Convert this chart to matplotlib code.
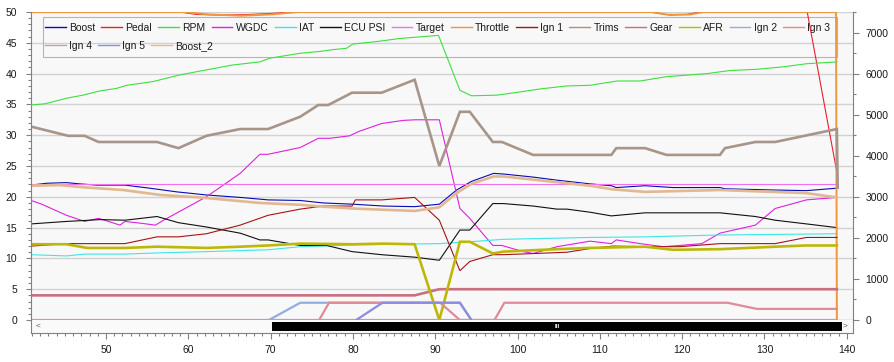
import matplotlib
matplotlib.use('Agg')
import matplotlib.pyplot as plt
from matplotlib.lines import Line2D
from matplotlib.patches import Rectangle
from matplotlib.ticker import MultipleLocator

plt.rcParams['font.family'] = ['Liberation Sans', 'DejaVu Sans']
plt.rcParams['font.size'] = 7.5

# ---- data (time on x) ----
boost_x = [40.9, 42.8, 45.2, 46.8, 48.9, 52.3, 55.3, 58.6, 62.2, 66.3, 69.7, 73.6, 76.4, 80.0, 83.7,
           87.5, 90.5, 92.6, 94.4, 97.1, 98.3, 101.9, 104.8, 108.8, 111.4, 112.0, 115.5, 118.9,
           124.6, 125.2, 131.3, 135.1, 138.8]
boost = [21.9, 22.2, 22.3, 22.1, 21.9, 21.9, 21.4, 20.8, 20.3, 19.9, 19.5, 19.4, 19.0, 18.8, 18.5,
         18.4, 18.8, 21.1, 22.5, 23.8, 23.7, 23.2, 22.7, 22.1, 21.8, 21.5, 21.8, 21.5,
         21.5, 21.3, 21.1, 21.0, 21.4]

pedal_x = [40.9, 58.5, 61.0, 64.0, 67.5, 70.5, 73.4, 115.8, 118.0, 120.5, 122.6, 132.5, 138.8]
pedal = [52.0, 50.1, 49.6, 49.5, 49.6, 49.8, 50.1, 50.1, 49.6, 49.6, 50.1, 69.5, 24.0]

rpm_x = [40.9, 42.6, 45.2, 47.2, 49.3, 51.3, 52.5, 55.7, 59.0, 62.2, 65.4, 68.7, 69.9, 73.6, 76.0,
         77.6, 79.2, 80.0, 82.9, 85.7, 88.5, 90.4, 93.0, 94.4, 97.5, 100.7, 102.7, 106.0, 108.8,
         112.1, 114.9, 118.1, 123.0, 125.8, 129.1, 132.3, 135.1, 138.8]
rpm = [5235, 5265, 5400, 5475, 5580, 5640, 5715, 5805, 5970, 6090, 6210, 6285, 6375, 6495, 6540,
       6585, 6615, 6720, 6780, 6855, 6900, 6930, 5595, 5460, 5475, 5565, 5625, 5700, 5715,
       5820, 5820, 5925, 6000, 6075, 6105, 6165, 6240, 6285]

wgdc_x = [40.9, 42.2, 45.2, 47.4, 49.1, 50.3, 51.7, 52.3, 54.3, 56.0, 57.0, 62.2, 66.3, 68.7, 69.7,
          73.6, 75.8, 77.2, 79.6, 80.7, 83.5, 86.1, 87.5, 90.5, 93.0, 94.2, 97.0, 98.1, 100.7,
          101.9, 104.8, 108.8, 111.4, 112.0, 114.9, 117.7, 119.7, 122.4, 124.6, 128.9, 131.3,
          135.1, 138.8]
wgdc = [19.4, 18.8, 17.0, 16.0, 16.5, 16.0, 15.4, 16.0, 15.7, 15.4, 16.2, 20.0, 23.8, 26.9, 26.9,
        28.0, 29.5, 29.5, 29.9, 30.6, 31.9, 32.4, 32.5, 32.5, 18.1, 16.5, 12.1, 12.1, 11.1,
        10.8, 11.9, 12.8, 12.4, 13.0, 12.4, 11.9, 12.1, 12.4, 14.1, 15.4, 18.1,
        19.5, 19.9]

iat_x = [40.9, 45.2, 47.4, 52.1, 56.6, 62.2, 69.7, 73.6, 76.4, 80.4, 90.5, 94.2, 98.3, 108.8,
         115.5, 124.6, 138.8]
iat = [10.6, 10.4, 10.7, 10.7, 10.9, 11.1, 11.4, 11.9, 12.0, 12.2, 12.4, 12.7, 13.1, 13.4,
       13.5, 13.8, 14.0]

ecu_x = [40.9, 45.2, 49.3, 52.3, 56.2, 58.8, 62.2, 66.3, 68.7, 69.7, 73.6, 76.8, 79.9, 83.5, 87.5,
         90.5, 93.0, 94.2, 97.0, 98.3, 101.9, 104.8, 106.0, 108.8, 111.4, 115.5, 124.6, 128.9,
         131.3, 135.1, 138.8]
ecu_psi = [15.6, 16.0, 16.3, 16.2, 16.8, 15.8, 15.1, 14.1, 13.0, 13.0, 12.1, 12.1, 11.1, 10.6, 10.2,
           9.7, 14.6, 14.6, 18.9, 18.9, 18.5, 18.0, 18.0, 17.5, 16.9, 17.4, 17.4, 16.8,
           16.2, 15.6, 15.0]

target_x = [40.9, 138.8]
target = [22.0, 22.0]

throttle_x = [40.9, 59.5, 62.5, 66.5, 70.0, 73.4, 116.2, 118.5, 121.0, 122.6, 138.7, 138.8]
throttle = [50.0, 50.0, 49.6, 49.4, 49.6, 50.0, 50.0, 49.5, 49.6, 50.0, 50.0, 0.0]

ign1_x = [40.9, 45.2, 52.3, 56.2, 58.8, 62.2, 66.3, 69.7, 73.6, 76.4, 79.9, 80.3, 83.5, 87.5,
          90.5, 93.0, 94.2, 97.0, 98.3, 106.0, 108.8, 111.6, 115.5, 119.7, 124.6, 131.3,
          135.1, 138.8]
ign1 = [12.0, 12.4, 12.4, 13.5, 13.5, 14.0, 15.4, 17.0, 18.0, 18.5, 18.5, 19.5, 19.5, 19.9,
        16.2, 8.0, 9.5, 10.6, 10.6, 11.0, 11.6, 12.0, 11.9, 11.9, 12.4, 12.4,
        13.4, 13.4]

trims_x = [40.9, 45.4, 47.4, 49.1, 56.2, 58.8, 62.2, 66.3, 69.7, 73.6, 75.8, 77.0, 79.9, 83.5,
           87.5, 90.5, 93.0, 94.2, 97.0, 98.1, 101.9, 111.4, 112.0, 115.5, 118.1, 124.6, 125.2,
           128.9, 131.3, 138.8, 138.9]
trims = [31.4, 29.9, 29.9, 28.9, 28.9, 27.9, 29.9, 31.0, 31.0, 33.0, 34.9, 34.9, 36.9, 36.9,
         39.0, 25.0, 33.8, 33.8, 28.9, 28.9, 26.8, 26.8, 27.9, 27.9, 26.8, 26.8, 27.9,
         28.9, 28.9, 31.0, 21.5]

gear_x = [40.9, 87.5, 90.5, 138.8]
gear = [4, 4, 5, 5]

afr_x = [40.9, 45.2, 47.7, 52.3, 56.2, 62.2, 66.3, 69.7, 73.6, 80.0, 83.7, 87.5, 90.5, 93.0, 94.2,
         97.0, 98.3, 104.8, 108.8, 115.5, 118.9, 124.6, 131.3, 135.1, 138.8]
afr = [12.3, 12.3, 11.7, 11.7, 11.9, 11.7, 11.9, 12.1, 12.4, 12.3, 12.4, 12.3, 0.0, 12.7, 12.7,
       10.8, 11.1, 11.5, 11.7, 11.9, 11.4, 11.5, 11.9, 12.1, 12.1]

ign2_x = [69.8, 73.6, 93.0, 94.4]
ign2 = [0.0, 2.8, 2.8, 0.0]

ign3_x = [75.9, 77.1, 90.6, 93.0, 97.2, 98.4, 125.5, 129.1, 138.8]
ign3 = [0.0, 2.8, 2.8, 0.0, 0.0, 2.8, 2.8, 1.8, 1.8]

ign4_x = [40.9, 138.8]
ign4 = [0.0, 0.0]

ign5_x = [80.4, 83.6, 93.0, 94.4]
ign5 = [0.0, 2.8, 2.8, 0.0]

boost2_x = [40.9, 44.4, 47.7, 52.1, 56.6, 61.4, 68.7, 73.6, 76.4, 80.0, 83.7, 87.5, 90.5, 92.6,
            94.4, 97.1, 98.3, 108.8, 111.6, 115.5, 124.6, 135.1, 138.8]
boost2 = [21.8, 21.9, 21.5, 21.1, 20.3, 19.9, 19.0, 18.7, 18.4, 18.1, 17.9, 17.7, 18.3, 20.6,
          22.1, 23.3, 23.3, 21.8, 21.2, 20.8, 21.1, 20.6, 19.9]

# label, x, y, colour, linewidth, on right axis
series = [
    ('Boost', boost_x, boost, '#0a0ab4', 0.8, False),
    ('Pedal', pedal_x, pedal, '#e8202c', 0.8, False),
    ('RPM', rpm_x, rpm, '#3ee03e', 0.8, True),
    ('WGDC', wgdc_x, wgdc, '#e020e0', 0.8, False),
    ('IAT', iat_x, iat, '#3ee6e6', 0.8, False),
    ('ECU PSI', ecu_x, ecu_psi, '#111111', 0.8, False),
    ('Target', target_x, target, '#f070f0', 0.8, False),
    ('Throttle', throttle_x, throttle, '#f0963c', 1.4, False),
    ('Ign 1', ign1_x, ign1, '#a51414', 0.8, False),
    ('Trims', trims_x, trims, '#a8958a', 1.9, False),
    ('Gear', gear_x, gear, '#c8707e', 1.9, False),
    ('AFR', afr_x, afr, '#bdb808', 1.9, False),
    ('Ign 2', ign2_x, ign2, '#92aede', 1.6, False),
    ('Ign 3', ign3_x, ign3, '#e08a9a', 1.6, False),
    ('Ign 4', ign4_x, ign4, '#b9a3b4', 1.6, False),
    ('Ign 5', ign5_x, ign5, '#8c8ce0', 1.6, False),
    ('Boost_2', boost2_x, boost2, '#e2b890', 1.9, False),
]

W, H = 894, 362
fig = plt.figure(figsize=(W / 100, H / 100), dpi=100)
x_lo, x_hi = 40.89, 140.70

# main plot area (px 31..852, 12..320) and scrollbar strip below (320..333)
ax = fig.add_axes([31 / W, (H - 320) / H, 821.5 / W, 308 / H])
ax_s = fig.add_axes([31 / W, (H - 333) / H, 821.5 / W, 13 / H], sharex=ax)
ax2 = ax.twinx()

ax.set_facecolor('#f8f8f8')
ax.set_xlim(x_lo, x_hi)
ax.set_ylim(0, 50)
ax2.set_ylim(0, 7500)

for label, xs, ys, color, lw, right in series:
    target_ax = ax2 if right else ax
    target_ax.plot(xs, ys, color=color, lw=lw, solid_joinstyle='miter')

# grid + ticks
ax.yaxis.set_major_locator(MultipleLocator(5))
ax.yaxis.set_minor_locator(MultipleLocator(1))
ax.grid(axis='y', color='#d2d2d2', lw=1.0, zorder=0)
ax.set_axisbelow(True)
ax.tick_params(axis='x', which='both', bottom=False, labelbottom=False)
ax.tick_params(axis='y', which='major', length=3.6, width=0.8, color='#808080', pad=6.5,
               labelcolor='#1a1a1a', labelsize=7.5)
ax.tick_params(axis='y', which='minor', length=2.0, width=0.8, color='#808080')

ax2.yaxis.set_major_locator(MultipleLocator(1000))
ax2.yaxis.set_minor_locator(MultipleLocator(500))
ax2.tick_params(axis='y', which='major', length=4.3, width=0.8, color='#808080', pad=5,
                labelcolor='#1a1a1a', labelsize=7.5)
ax2.tick_params(axis='y', which='minor', length=2.2, width=0.8, color='#808080')

for a in (ax, ax2):
    a.spines['top'].set_visible(False)
ax.spines['right'].set_visible(False)
ax2.spines['left'].set_visible(False)
ax2.spines['bottom'].set_visible(False)
ax.spines['left'].set_color('#808080')
ax.spines['bottom'].set_color('#808080')
ax.spines['bottom'].set_zorder(3)
ax2.spines['right'].set_color('#808080')

# scrollbar strip with x ticks under it
ax_s.set_facecolor('#fafafa')
ax_s.set_ylim(0, 1)
ax_s.set_yticks([])
ax_s.spines['top'].set_visible(False)
for side in ('left', 'right', 'bottom'):
    ax_s.spines[side].set_color('#808080')
ax_s.xaxis.set_major_locator(MultipleLocator(10))
ax_s.xaxis.set_minor_locator(MultipleLocator(1))
ax_s.tick_params(axis='x', which='major', length=4.3, width=0.8, color='#808080', pad=4,
                 labelcolor='#1a1a1a', labelsize=7.5)
ax_s.tick_params(axis='x', which='minor', length=2.2, width=0.8, color='#808080')
ax_s.add_patch(Rectangle((0.293, 0.18), 0.694, 0.69, transform=ax_s.transAxes,
                         facecolor='black', edgecolor='none'))
ax_s.text(0.641, 0.52, 'III', transform=ax_s.transAxes, color='white', fontsize=4.5,
          ha='center', va='center', fontweight='bold')
ax_s.text(0.006, 0.55, '<', transform=ax_s.transAxes, color='#606060', fontsize=6,
          ha='left', va='center')
ax_s.text(0.994, 0.55, '>', transform=ax_s.transAxes, color='#606060', fontsize=6,
          ha='right', va='center')

# legend: two rows laid out like the viewer, drawn underneath the traces
handles = [Line2D([], [], color=s[3], lw=1.0) for s in series]
labels = [s[0] for s in series]
leg_kw = dict(loc='center left', bbox_transform=fig.transFigure, frameon=False, fontsize=7.5,
              borderpad=0, borderaxespad=0, handlelength=2.0, handletextpad=0.3,
              columnspacing=0.6, labelcolor='#1a1a1a')
leg1 = ax.legend(handles[:14], labels[:14], ncol=14, bbox_to_anchor=(45 / W, 1 - 28 / H), **leg_kw)
leg1.set_zorder(1)
ax.add_artist(leg1)
leg2 = ax.legend(handles[14:], labels[14:], ncol=3, bbox_to_anchor=(45 / W, 1 - 46 / H), **leg_kw)
leg2.set_zorder(1)
frame = Rectangle((43 / W, 1 - 57 / H), 794 / W, 40 / H, transform=fig.transFigure,
                  facecolor='none', edgecolor='#b4b4b4', lw=0.8, zorder=1)
ax.add_artist(frame)

fig.savefig('out.png', dpi=100, facecolor='white')
